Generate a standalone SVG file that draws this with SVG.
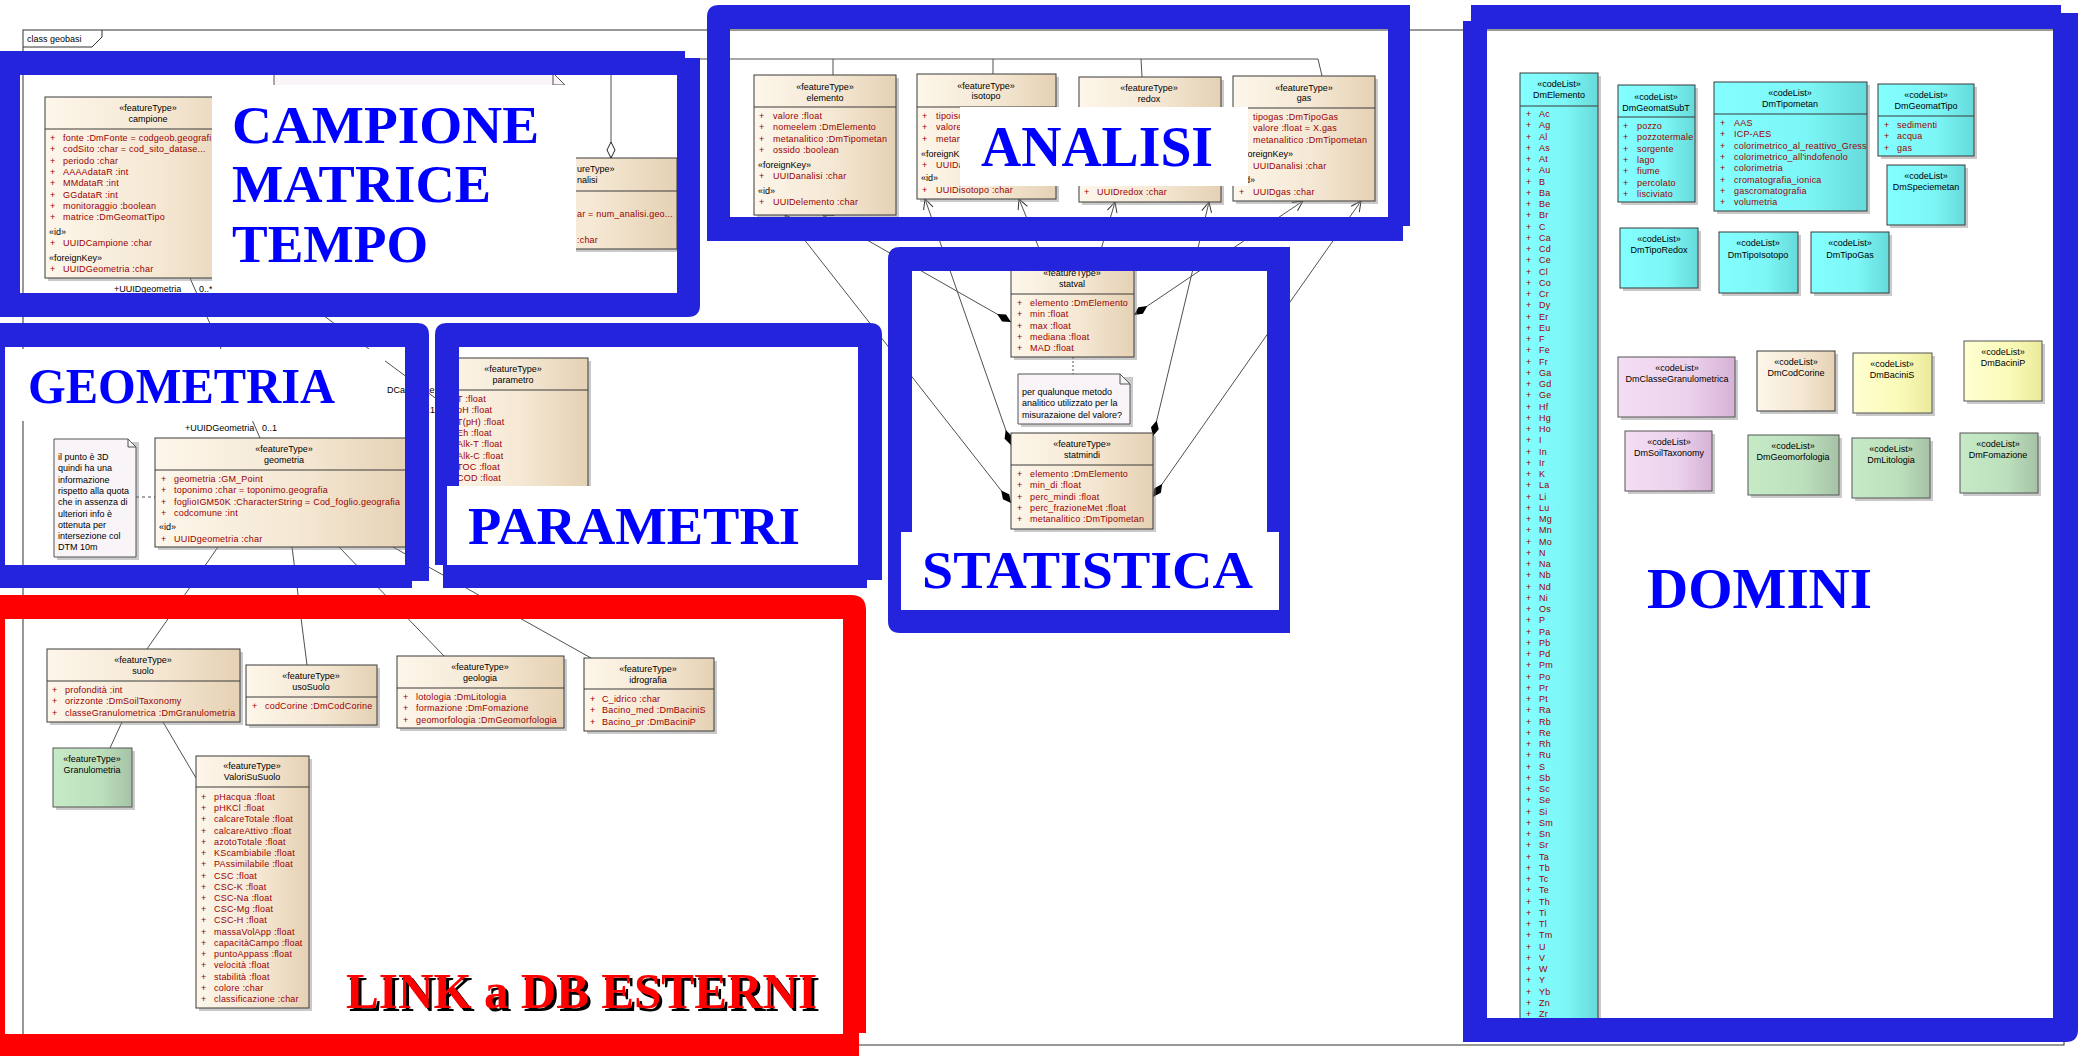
<svg xmlns="http://www.w3.org/2000/svg" width="2078" height="1056" viewBox="0 0 2078 1056">
<defs>
<linearGradient id="gB" x1="0" x2="1" y1="0" y2="0"><stop offset="0" stop-color="#FDF6EA"/><stop offset="0.55" stop-color="#F5E8D4"/><stop offset="1" stop-color="#E5D1B4"/></linearGradient>
<linearGradient id="gC" x1="0" x2="1" y1="0" y2="0"><stop offset="0" stop-color="#84FFFF"/><stop offset="0.6" stop-color="#7CF6F6"/><stop offset="1" stop-color="#66DADA"/></linearGradient>
<linearGradient id="gP" x1="0" x2="1" y1="0" y2="0"><stop offset="0" stop-color="#F4DEF4"/><stop offset="0.6" stop-color="#ECD2EC"/><stop offset="1" stop-color="#D6B2D6"/></linearGradient>
<linearGradient id="gY" x1="0" x2="1" y1="0" y2="0"><stop offset="0" stop-color="#FFFFD2"/><stop offset="0.6" stop-color="#FAFAB8"/><stop offset="1" stop-color="#EAEA9C"/></linearGradient>
<linearGradient id="gG" x1="0" x2="1" y1="0" y2="0"><stop offset="0" stop-color="#C6EAC6"/><stop offset="0.6" stop-color="#BCE0BC"/><stop offset="1" stop-color="#A6C2A6"/></linearGradient>
<marker id="dia" viewBox="0 0 16 10" refX="0" refY="5" markerWidth="16" markerHeight="10" orient="auto" markerUnits="userSpaceOnUse"><path d="M0,5 L8,1 L16,5 L8,9 Z" fill="#000"/></marker>
<marker id="odia" viewBox="0 0 18 12" refX="1" refY="6" markerWidth="18" markerHeight="12" orient="auto" markerUnits="userSpaceOnUse"><path d="M1,6 L9,2 L17,6 L9,10 Z" fill="#fff" stroke="#222"/></marker>
<marker id="arr" viewBox="0 0 12 12" refX="11" refY="6" markerWidth="12" markerHeight="12" orient="auto" markerUnits="userSpaceOnUse"><path d="M1,1 L11,6 L1,11" fill="none" stroke="#333" stroke-width="1"/></marker>
</defs>
<style>
.t{font-family:"Liberation Sans",Arial,sans-serif;font-size:9px;fill:#000}
.c{text-anchor:middle}
.a{fill:#990000;letter-spacing:0.2px}
.box{fill:url(#gB);stroke:#3a3a3a;stroke-width:1}
.cy{fill:url(#gC);stroke:#3a3a3a;stroke-width:1}
.pk{fill:url(#gP);stroke:#555;stroke-width:1}
.ye{fill:url(#gY);stroke:#555;stroke-width:1}
.gr{fill:url(#gG);stroke:#555;stroke-width:1}
.sh{fill:#8a8a8a;opacity:.45}
.dv{stroke:#3a3a3a;stroke-width:1}
.ln{stroke:#505050;stroke-width:1;fill:none}
.note{fill:#F8F4F8;stroke:#555;stroke-width:1}
.rg{fill:#2424DC;fill-rule:evenodd}
.rd{fill:#FF0000;fill-rule:evenodd}
.wl{fill:#fff}
.big{font-family:"Liberation Serif","Times New Roman",serif;fill:#0000FF;font-weight:bold}
</style>
<rect width="2078" height="1056" fill="#fff"/>

<g id="frame">
<rect x="23" y="30" width="2041" height="1015" fill="none" stroke="#333" stroke-width="1"/>
<path d="M23,47 H92 L102,37 V30" fill="none" stroke="#333"/>
<text class="t" x="27" y="42">class geobasi</text>
</g>

<g id="connectors">
<path class="ln" d="M611,158 V59 H1318" marker-start="url(#odia)"/>
<path class="ln" d="M833,59 V75 M993,59 V74 M1141,59 L1142,77 M1318,59 L1322,76"/>
<path class="ln" d="M190,278 L260,438"/>
<path class="ln" d="M251,262 L438,400"/>
<path class="ln" d="M218,547 L147,649 M292,547 L307,665 M339,547 L444,656 M393,547 L591,658"/>
<path class="ln" d="M122,722 L110,748 M163,722 L196,778"/>
<path class="ln" d="M1011,503 L785,215" marker-start="url(#dia)" marker-end="url(#arr)"/>
<path class="ln" d="M1011,322 L823,215" marker-start="url(#dia)" marker-end="url(#arr)"/>
<path class="ln" d="M1011,445 L925,199" marker-start="url(#dia)" marker-end="url(#arr)"/>
<path class="ln" d="M1045,263 L1019,199" marker-start="url(#dia)" marker-end="url(#arr)"/>
<path class="ln" d="M1097,263 L1115,202" marker-start="url(#dia)" marker-end="url(#arr)"/>
<path class="ln" d="M1153,436 L1209,202" marker-start="url(#dia)" marker-end="url(#arr)"/>
<path class="ln" d="M1134,315 L1303,201" marker-start="url(#dia)" marker-end="url(#arr)"/>
<path class="ln" d="M1153,497 L1361,201" marker-start="url(#dia)" marker-end="url(#arr)"/>
<path class="ln" d="M136,497 H155" stroke-dasharray="3,3"/>
<path class="ln" d="M1073,357 V374" stroke-dasharray="2,2"/>
<text class="t" x="114" y="292">+UUIDgeometria</text>
<text class="t" x="199" y="292">0..*</text>
<text class="t" x="185" y="431">+UUIDGeometria</text>
<text class="t" x="262" y="431">0..1</text>
<text class="t" x="387" y="393">DCampione</text>
<text class="t" x="420" y="413">0..1</text>
</g>

<g id="note-top">
<path class="note" d="M274,73 H553 L565,85 V110 H274 Z"/>
<path class="ln" d="M553,73 V85 H565"/>
</g>

<g id="campione">
<rect class="sh" x="48" y="100" width="206" height="181"/>
<rect class="box" x="45" y="97" width="206" height="181"/>
<line class="dv" x1="45" y1="129" x2="251" y2="129"/>
<text class="t c" x="148" y="111">«featureType»</text>
<text class="t c" x="148" y="122">campione</text>
<text class="t a" x="50" y="141">+<tspan x="50" dy="11.3">+</tspan><tspan x="50" dy="11.3">+</tspan><tspan x="50" dy="11.3">+</tspan><tspan x="50" dy="11.3">+</tspan><tspan x="50" dy="11.3">+</tspan><tspan x="50" dy="11.3">+</tspan><tspan x="50" dy="11.3">+</tspan></text>
<text class="t a" x="63" y="141">fonte :DmFonte = codgeob.geografi<tspan x="63" dy="11.3">codSito :char = cod_sito_datase...</tspan><tspan x="63" dy="11.3">periodo :char</tspan><tspan x="63" dy="11.3">AAAAdataR :int</tspan><tspan x="63" dy="11.3">MMdataR :int</tspan><tspan x="63" dy="11.3">GGdataR :int</tspan><tspan x="63" dy="11.3">monitoraggio :boolean</tspan><tspan x="63" dy="11.3">matrice :DmGeomatTipo</tspan></text>
<text class="t" x="49" y="235">«id»</text>
<text class="t a" x="50" y="246">+</text><text class="t a" x="63" y="246">UUIDCampione :char</text>
<text class="t" x="49" y="261">«foreignKey»</text>
<text class="t a" x="50" y="272">+</text><text class="t a" x="63" y="272">UUIDGeometria :char</text>
</g>

<g id="analisi">
<rect class="sh" x="494" y="161" width="186" height="91"/>
<rect class="box" x="491" y="158" width="186" height="91"/>
<line class="dv" x1="491" y1="191" x2="677" y2="191"/>
<text class="t" x="577" y="172">ureType»</text>
<text class="t" x="577" y="183">nalisi</text>
<text class="t a" x="577" y="217">ar = num_analisi.geo...</text>
<text class="t a" x="577" y="243">:char</text>
</g>

<g id="parametro">
<rect class="sh" x="441" y="361" width="150" height="182"/>
<rect class="box" x="438" y="358" width="150" height="182"/>
<line class="dv" x1="438" y1="390" x2="588" y2="390"/>
<text class="t c" x="513" y="372">«featureType»</text>
<text class="t c" x="513" y="383">parametro</text>
<text class="t a" x="457" y="402">T :float<tspan x="457" dy="11.3">pH :float</tspan><tspan x="457" dy="11.3">T(pH) :float</tspan><tspan x="457" dy="11.3">Eh :float</tspan><tspan x="457" dy="11.3">Alk-T :float</tspan><tspan x="457" dy="11.3">Alk-C :float</tspan><tspan x="457" dy="11.3">TOC :float</tspan><tspan x="457" dy="11.3">COD :float</tspan></text>
</g>

<g id="note-punto">
<path class="sh" d="M57,442 H139 V560 H57 Z"/>
<path class="note" d="M54,439 H128 L136,447 V557 H54 Z"/>
<path class="ln" d="M128,439 V447 H136"/>
<text class="t" x="58" y="460">il punto è 3D<tspan x="58" dy="11.3">quindi ha una</tspan><tspan x="58" dy="11.3">informazione</tspan><tspan x="58" dy="11.3">rispetto alla quota</tspan><tspan x="58" dy="11.3">che in assenza di</tspan><tspan x="58" dy="11.3">ulteriori info è</tspan><tspan x="58" dy="11.3">ottenuta per</tspan><tspan x="58" dy="11.3">intersezione col</tspan><tspan x="58" dy="11.3">DTM 10m</tspan></text>
</g>

<g id="geometria">
<rect class="sh" x="158" y="441" width="258" height="109"/>
<rect class="box" x="155" y="438" width="258" height="109"/>
<line class="dv" x1="155" y1="470" x2="413" y2="470"/>
<text class="t c" x="284" y="452">«featureType»</text>
<text class="t c" x="284" y="463">geometria</text>
<text class="t a" x="161" y="482">+<tspan x="161" dy="11.3">+</tspan><tspan x="161" dy="11.3">+</tspan><tspan x="161" dy="11.3">+</tspan></text>
<text class="t a" x="174" y="482">geometria :GM_Point<tspan x="174" dy="11.3">toponimo :char = toponimo.geografia</tspan><tspan x="174" dy="11.3">foglioIGM50K :CharacterString = Cod_foglio.geografia</tspan><tspan x="174" dy="11.3">codcomune :int</tspan></text>
<text class="t" x="159" y="530">«id»</text>
<text class="t a" x="161" y="542">+</text><text class="t a" x="174" y="542">UUIDgeometria :char</text>
</g>

<g id="suolo">
<rect class="sh" x="50" y="652" width="193" height="73"/>
<rect class="box" x="47" y="649" width="193" height="73"/>
<line class="dv" x1="47" y1="681" x2="240" y2="681"/>
<text class="t c" x="143" y="663">«featureType»</text>
<text class="t c" x="143" y="674">suolo</text>
<text class="t a" x="52" y="693">+<tspan x="52" dy="11.3">+</tspan><tspan x="52" dy="11.3">+</tspan></text>
<text class="t a" x="65" y="693">profondità :int<tspan x="65" dy="11.3">orizzonte :DmSoilTaxonomy</tspan><tspan x="65" dy="11.3">classeGranulometrica :DmGranulometria</tspan></text>
</g>

<g id="usoSuolo">
<rect class="sh" x="249" y="668" width="131" height="60"/>
<rect class="box" x="246" y="665" width="131" height="60"/>
<line class="dv" x1="246" y1="697" x2="377" y2="697"/>
<text class="t c" x="311" y="679">«featureType»</text>
<text class="t c" x="311" y="690">usoSuolo</text>
<text class="t a" x="252" y="709">+</text><text class="t a" x="265" y="709">codCorine :DmCodCorine</text>
</g>

<g id="geologia">
<rect class="sh" x="400" y="659" width="167" height="72"/>
<rect class="box" x="397" y="656" width="167" height="72"/>
<line class="dv" x1="397" y1="688" x2="564" y2="688"/>
<text class="t c" x="480" y="670">«featureType»</text>
<text class="t c" x="480" y="681">geologia</text>
<text class="t a" x="403" y="700">+<tspan x="403" dy="11.3">+</tspan><tspan x="403" dy="11.3">+</tspan></text>
<text class="t a" x="416" y="700">lotologia :DmLitologia<tspan x="416" dy="11.3">formazione :DmFomazione</tspan><tspan x="416" dy="11.3">geomorfologia :DmGeomorfologia</tspan></text>
</g>

<g id="idrografia">
<rect class="sh" x="587" y="661" width="130" height="73"/>
<rect class="box" x="584" y="658" width="130" height="73"/>
<line class="dv" x1="584" y1="689" x2="714" y2="689"/>
<text class="t c" x="648" y="672">«featureType»</text>
<text class="t c" x="648" y="683">idrografia</text>
<text class="t a" x="590" y="702">+<tspan x="590" dy="11.3">+</tspan><tspan x="590" dy="11.3">+</tspan></text>
<text class="t a" x="602" y="702">C_idrico :char<tspan x="602" dy="11.3">Bacino_med :DmBaciniS</tspan><tspan x="602" dy="11.3">Bacino_pr :DmBaciniP</tspan></text>
</g>

<g id="Granulometria">
<rect class="sh" x="56" y="751" width="79" height="59"/>
<rect class="gr" x="53" y="748" width="79" height="59"/>
<text class="t c" x="92" y="762">«featureType»</text>
<text class="t c" x="92" y="773">Granulometria</text>
</g>

<g id="ValoriSuSuolo">
<rect class="sh" x="199" y="759" width="113" height="252"/>
<rect class="box" x="196" y="756" width="113" height="252"/>
<line class="dv" x1="196" y1="787" x2="309" y2="787"/>
<text class="t c" x="252" y="769">«featureType»</text>
<text class="t c" x="252" y="780">ValoriSuSuolo</text>
<text class="t a" x="201" y="800">+<tspan x="201" dy="11.22">+</tspan><tspan x="201" dy="11.22">+</tspan><tspan x="201" dy="11.22">+</tspan><tspan x="201" dy="11.22">+</tspan><tspan x="201" dy="11.22">+</tspan><tspan x="201" dy="11.22">+</tspan><tspan x="201" dy="11.22">+</tspan><tspan x="201" dy="11.22">+</tspan><tspan x="201" dy="11.22">+</tspan><tspan x="201" dy="11.22">+</tspan><tspan x="201" dy="11.22">+</tspan><tspan x="201" dy="11.22">+</tspan><tspan x="201" dy="11.22">+</tspan><tspan x="201" dy="11.22">+</tspan><tspan x="201" dy="11.22">+</tspan><tspan x="201" dy="11.22">+</tspan><tspan x="201" dy="11.22">+</tspan><tspan x="201" dy="11.22">+</tspan></text>
<text class="t a" x="214" y="800">pHacqua :float<tspan x="214" dy="11.22">pHKCl :float</tspan><tspan x="214" dy="11.22">calcareTotale :float</tspan><tspan x="214" dy="11.22">calcareAttivo :float</tspan><tspan x="214" dy="11.22">azotoTotale :float</tspan><tspan x="214" dy="11.22">KScambiabile :float</tspan><tspan x="214" dy="11.22">PAssimilabile :float</tspan><tspan x="214" dy="11.22">CSC :float</tspan><tspan x="214" dy="11.22">CSC-K :float</tspan><tspan x="214" dy="11.22">CSC-Na :float</tspan><tspan x="214" dy="11.22">CSC-Mg :float</tspan><tspan x="214" dy="11.22">CSC-H :float</tspan><tspan x="214" dy="11.22">massaVolApp :float</tspan><tspan x="214" dy="11.22">capacitàCampo :float</tspan><tspan x="214" dy="11.22">puntoAppass :float</tspan><tspan x="214" dy="11.22">velocità :float</tspan><tspan x="214" dy="11.22">stabilità :float</tspan><tspan x="214" dy="11.22">colore :char</tspan><tspan x="214" dy="11.22">classificazione :char</tspan></text>
</g>

<g id="elemento">
<rect class="sh" x="757" y="78" width="142" height="140"/>
<rect class="box" x="754" y="75" width="142" height="140"/>
<line class="dv" x1="754" y1="107" x2="896" y2="107"/>
<text class="t c" x="825" y="90">«featureType»</text>
<text class="t c" x="825" y="101">elemento</text>
<text class="t a" x="759" y="119">+<tspan x="759" dy="11.3">+</tspan><tspan x="759" dy="11.3">+</tspan><tspan x="759" dy="11.3">+</tspan></text>
<text class="t a" x="773" y="119">valore :float<tspan x="773" dy="11.3">nomeelem :DmElemento</tspan><tspan x="773" dy="11.3">metanalitico :DmTipometan</tspan><tspan x="773" dy="11.3">ossido :boolean</tspan></text>
<text class="t" x="758" y="168">«foreignKey»</text>
<text class="t a" x="759" y="179">+</text><text class="t a" x="773" y="179">UUIDanalisi :char</text>
<text class="t" x="758" y="194">«id»</text>
<text class="t a" x="759" y="205">+</text><text class="t a" x="773" y="205">UUIDelemento :char</text>
</g>

<g id="isotopo">
<rect class="sh" x="920" y="77" width="139" height="125"/>
<rect class="box" x="917" y="74" width="139" height="125"/>
<line class="dv" x1="917" y1="107" x2="1056" y2="107"/>
<text class="t c" x="986" y="89">«featureType»</text>
<text class="t c" x="986" y="99">isotopo</text>
<text class="t a" x="922" y="119">+<tspan x="922" dy="11.3">+</tspan><tspan x="922" dy="11.3">+</tspan></text>
<text class="t a" x="936" y="119">tipoisc<tspan x="936" dy="11.3">valore</tspan><tspan x="936" dy="11.3">metan</tspan></text>
<text class="t" x="921" y="157">«foreignK</text>
<text class="t a" x="922" y="168">+</text><text class="t a" x="936" y="168">UUIDa</text>
<text class="t" x="921" y="181">«id»</text>
<text class="t a" x="922" y="193">+</text><text class="t a" x="936" y="193">UUIDisotopo :char</text>
</g>

<g id="redox">
<rect class="sh" x="1082" y="80" width="142" height="125"/>
<rect class="box" x="1079" y="77" width="142" height="125"/>
<line class="dv" x1="1079" y1="108" x2="1221" y2="108"/>
<text class="t c" x="1149" y="91">«featureType»</text>
<text class="t c" x="1149" y="102">redox</text>
<text class="t a" x="1084" y="195">+</text><text class="t a" x="1097" y="195">UUIDredox :char</text>
</g>

<g id="gas">
<rect class="sh" x="1236" y="79" width="142" height="125"/>
<rect class="box" x="1233" y="76" width="142" height="125"/>
<line class="dv" x1="1233" y1="108" x2="1375" y2="108"/>
<text class="t c" x="1304" y="91">«featureType»</text>
<text class="t c" x="1304" y="101">gas</text>
<text class="t a" x="1253" y="120">tipogas :DmTipoGas<tspan x="1253" dy="11.3">valore :float = X.gas</tspan><tspan x="1253" dy="11.3">metanalitico :DmTipometan</tspan></text>
<text class="t" x="1240" y="157">«foreignKey»</text>
<text class="t a" x="1253" y="169">UUIDanalisi :char</text>
<text class="t" x="1238" y="183">«id»</text>
<text class="t a" x="1239" y="195">+</text><text class="t a" x="1253" y="195">UUIDgas :char</text>
</g>

<g id="statval">
<rect class="sh" x="1014" y="266" width="123" height="94"/>
<rect class="box" x="1011" y="263" width="123" height="94"/>
<line class="dv" x1="1011" y1="294" x2="1134" y2="294"/>
<text class="t c" x="1072" y="276">«featureType»</text>
<text class="t c" x="1072" y="287">statval</text>
<text class="t a" x="1017" y="306">+<tspan x="1017" dy="11.3">+</tspan><tspan x="1017" dy="11.3">+</tspan><tspan x="1017" dy="11.3">+</tspan><tspan x="1017" dy="11.3">+</tspan></text>
<text class="t a" x="1030" y="306">elemento :DmElemento<tspan x="1030" dy="11.3">min :float</tspan><tspan x="1030" dy="11.3">max :float</tspan><tspan x="1030" dy="11.3">mediana :float</tspan><tspan x="1030" dy="11.3">MAD :float</tspan></text>
</g>

<g id="note-stat">
<path class="sh" d="M1021,377 H1133 V427 H1021 Z"/>
<path class="note" d="M1018,374 H1120 L1130,384 V424 H1018 Z"/>
<path class="ln" d="M1120,374 V384 H1130"/>
<text class="t" x="1022" y="395">per qualunque metodo<tspan x="1022" dy="11.3">analitico utilizzato per la</tspan><tspan x="1022" dy="11.3">misurazaione del valore?</tspan></text>
</g>

<g id="statmindi">
<rect class="sh" x="1014" y="436" width="142" height="96"/>
<rect class="box" x="1011" y="433" width="142" height="96"/>
<line class="dv" x1="1011" y1="465" x2="1153" y2="465"/>
<text class="t c" x="1082" y="447">«featureType»</text>
<text class="t c" x="1082" y="458">statmindi</text>
<text class="t a" x="1017" y="477">+<tspan x="1017" dy="11.3">+</tspan><tspan x="1017" dy="11.3">+</tspan><tspan x="1017" dy="11.3">+</tspan><tspan x="1017" dy="11.3">+</tspan></text>
<text class="t a" x="1030" y="477">elemento :DmElemento<tspan x="1030" dy="11.3">min_di :float</tspan><tspan x="1030" dy="11.3">perc_mindi :float</tspan><tspan x="1030" dy="11.3">perc_frazioneMet :float</tspan><tspan x="1030" dy="11.3">metanalitico :DmTipometan</tspan></text>
</g>

<g id="DmElemento">
<rect class="sh" x="1523" y="76" width="78" height="949"/>
<rect class="cy" x="1520" y="73" width="78" height="949"/>
<line class="dv" x1="1520" y1="106" x2="1598" y2="106"/>
<text class="t c" x="1559" y="87">«codeList»</text>
<text class="t c" x="1559" y="98">DmElemento</text>
<text class="t a" x="1526" y="117">+<tspan x="1526" dy="11.25">+</tspan><tspan x="1526" dy="11.25">+</tspan><tspan x="1526" dy="11.25">+</tspan><tspan x="1526" dy="11.25">+</tspan><tspan x="1526" dy="11.25">+</tspan><tspan x="1526" dy="11.25">+</tspan><tspan x="1526" dy="11.25">+</tspan><tspan x="1526" dy="11.25">+</tspan><tspan x="1526" dy="11.25">+</tspan><tspan x="1526" dy="11.25">+</tspan><tspan x="1526" dy="11.25">+</tspan><tspan x="1526" dy="11.25">+</tspan><tspan x="1526" dy="11.25">+</tspan><tspan x="1526" dy="11.25">+</tspan><tspan x="1526" dy="11.25">+</tspan><tspan x="1526" dy="11.25">+</tspan><tspan x="1526" dy="11.25">+</tspan><tspan x="1526" dy="11.25">+</tspan><tspan x="1526" dy="11.25">+</tspan><tspan x="1526" dy="11.25">+</tspan><tspan x="1526" dy="11.25">+</tspan><tspan x="1526" dy="11.25">+</tspan><tspan x="1526" dy="11.25">+</tspan><tspan x="1526" dy="11.25">+</tspan><tspan x="1526" dy="11.25">+</tspan><tspan x="1526" dy="11.25">+</tspan><tspan x="1526" dy="11.25">+</tspan><tspan x="1526" dy="11.25">+</tspan><tspan x="1526" dy="11.25">+</tspan><tspan x="1526" dy="11.25">+</tspan><tspan x="1526" dy="11.25">+</tspan><tspan x="1526" dy="11.25">+</tspan><tspan x="1526" dy="11.25">+</tspan><tspan x="1526" dy="11.25">+</tspan><tspan x="1526" dy="11.25">+</tspan><tspan x="1526" dy="11.25">+</tspan><tspan x="1526" dy="11.25">+</tspan><tspan x="1526" dy="11.25">+</tspan><tspan x="1526" dy="11.25">+</tspan><tspan x="1526" dy="11.25">+</tspan><tspan x="1526" dy="11.25">+</tspan><tspan x="1526" dy="11.25">+</tspan><tspan x="1526" dy="11.25">+</tspan><tspan x="1526" dy="11.25">+</tspan><tspan x="1526" dy="11.25">+</tspan><tspan x="1526" dy="11.25">+</tspan><tspan x="1526" dy="11.25">+</tspan><tspan x="1526" dy="11.25">+</tspan><tspan x="1526" dy="11.25">+</tspan><tspan x="1526" dy="11.25">+</tspan><tspan x="1526" dy="11.25">+</tspan><tspan x="1526" dy="11.25">+</tspan><tspan x="1526" dy="11.25">+</tspan><tspan x="1526" dy="11.25">+</tspan><tspan x="1526" dy="11.25">+</tspan><tspan x="1526" dy="11.25">+</tspan><tspan x="1526" dy="11.25">+</tspan><tspan x="1526" dy="11.25">+</tspan><tspan x="1526" dy="11.25">+</tspan><tspan x="1526" dy="11.25">+</tspan><tspan x="1526" dy="11.25">+</tspan><tspan x="1526" dy="11.25">+</tspan><tspan x="1526" dy="11.25">+</tspan><tspan x="1526" dy="11.25">+</tspan><tspan x="1526" dy="11.25">+</tspan><tspan x="1526" dy="11.25">+</tspan><tspan x="1526" dy="11.25">+</tspan><tspan x="1526" dy="11.25">+</tspan><tspan x="1526" dy="11.25">+</tspan><tspan x="1526" dy="11.25">+</tspan><tspan x="1526" dy="11.25">+</tspan><tspan x="1526" dy="11.25">+</tspan><tspan x="1526" dy="11.25">+</tspan><tspan x="1526" dy="11.25">+</tspan><tspan x="1526" dy="11.25">+</tspan><tspan x="1526" dy="11.25">+</tspan><tspan x="1526" dy="11.25">+</tspan><tspan x="1526" dy="11.25">+</tspan><tspan x="1526" dy="11.25">+</tspan><tspan x="1526" dy="11.25">+</tspan></text>
<text class="t a" x="1539" y="117">Ac<tspan x="1539" dy="11.25">Ag</tspan><tspan x="1539" dy="11.25">Al</tspan><tspan x="1539" dy="11.25">As</tspan><tspan x="1539" dy="11.25">At</tspan><tspan x="1539" dy="11.25">Au</tspan><tspan x="1539" dy="11.25">B</tspan><tspan x="1539" dy="11.25">Ba</tspan><tspan x="1539" dy="11.25">Be</tspan><tspan x="1539" dy="11.25">Br</tspan><tspan x="1539" dy="11.25">C</tspan><tspan x="1539" dy="11.25">Ca</tspan><tspan x="1539" dy="11.25">Cd</tspan><tspan x="1539" dy="11.25">Ce</tspan><tspan x="1539" dy="11.25">Cl</tspan><tspan x="1539" dy="11.25">Co</tspan><tspan x="1539" dy="11.25">Cr</tspan><tspan x="1539" dy="11.25">Dy</tspan><tspan x="1539" dy="11.25">Er</tspan><tspan x="1539" dy="11.25">Eu</tspan><tspan x="1539" dy="11.25">F</tspan><tspan x="1539" dy="11.25">Fe</tspan><tspan x="1539" dy="11.25">Fr</tspan><tspan x="1539" dy="11.25">Ga</tspan><tspan x="1539" dy="11.25">Gd</tspan><tspan x="1539" dy="11.25">Ge</tspan><tspan x="1539" dy="11.25">Hf</tspan><tspan x="1539" dy="11.25">Hg</tspan><tspan x="1539" dy="11.25">Ho</tspan><tspan x="1539" dy="11.25">I</tspan><tspan x="1539" dy="11.25">In</tspan><tspan x="1539" dy="11.25">Ir</tspan><tspan x="1539" dy="11.25">K</tspan><tspan x="1539" dy="11.25">La</tspan><tspan x="1539" dy="11.25">Li</tspan><tspan x="1539" dy="11.25">Lu</tspan><tspan x="1539" dy="11.25">Mg</tspan><tspan x="1539" dy="11.25">Mn</tspan><tspan x="1539" dy="11.25">Mo</tspan><tspan x="1539" dy="11.25">N</tspan><tspan x="1539" dy="11.25">Na</tspan><tspan x="1539" dy="11.25">Nb</tspan><tspan x="1539" dy="11.25">Nd</tspan><tspan x="1539" dy="11.25">Ni</tspan><tspan x="1539" dy="11.25">Os</tspan><tspan x="1539" dy="11.25">P</tspan><tspan x="1539" dy="11.25">Pa</tspan><tspan x="1539" dy="11.25">Pb</tspan><tspan x="1539" dy="11.25">Pd</tspan><tspan x="1539" dy="11.25">Pm</tspan><tspan x="1539" dy="11.25">Po</tspan><tspan x="1539" dy="11.25">Pr</tspan><tspan x="1539" dy="11.25">Pt</tspan><tspan x="1539" dy="11.25">Ra</tspan><tspan x="1539" dy="11.25">Rb</tspan><tspan x="1539" dy="11.25">Re</tspan><tspan x="1539" dy="11.25">Rh</tspan><tspan x="1539" dy="11.25">Ru</tspan><tspan x="1539" dy="11.25">S</tspan><tspan x="1539" dy="11.25">Sb</tspan><tspan x="1539" dy="11.25">Sc</tspan><tspan x="1539" dy="11.25">Se</tspan><tspan x="1539" dy="11.25">Si</tspan><tspan x="1539" dy="11.25">Sm</tspan><tspan x="1539" dy="11.25">Sn</tspan><tspan x="1539" dy="11.25">Sr</tspan><tspan x="1539" dy="11.25">Ta</tspan><tspan x="1539" dy="11.25">Tb</tspan><tspan x="1539" dy="11.25">Tc</tspan><tspan x="1539" dy="11.25">Te</tspan><tspan x="1539" dy="11.25">Th</tspan><tspan x="1539" dy="11.25">Ti</tspan><tspan x="1539" dy="11.25">Tl</tspan><tspan x="1539" dy="11.25">Tm</tspan><tspan x="1539" dy="11.25">U</tspan><tspan x="1539" dy="11.25">V</tspan><tspan x="1539" dy="11.25">W</tspan><tspan x="1539" dy="11.25">Y</tspan><tspan x="1539" dy="11.25">Yb</tspan><tspan x="1539" dy="11.25">Zn</tspan><tspan x="1539" dy="11.25">Zr</tspan></text>
</g>

<g id="DmGeomatSubT">
<rect class="sh" x="1621" y="88" width="77" height="117"/>
<rect class="cy" x="1618" y="85" width="77" height="117"/>
<line class="dv" x1="1618" y1="117" x2="1695" y2="117"/>
<text class="t c" x="1656" y="100">«codeList»</text>
<text class="t c" x="1656" y="111">DmGeomatSubT</text>
<text class="t a" x="1623" y="129">+<tspan x="1623" dy="11.3">+</tspan><tspan x="1623" dy="11.3">+</tspan><tspan x="1623" dy="11.3">+</tspan><tspan x="1623" dy="11.3">+</tspan><tspan x="1623" dy="11.3">+</tspan><tspan x="1623" dy="11.3">+</tspan></text>
<text class="t a" x="1637" y="129">pozzo<tspan x="1637" dy="11.3">pozzotermale</tspan><tspan x="1637" dy="11.3">sorgente</tspan><tspan x="1637" dy="11.3">lago</tspan><tspan x="1637" dy="11.3">fiume</tspan><tspan x="1637" dy="11.3">percolato</tspan><tspan x="1637" dy="11.3">lisciviato</tspan></text>
</g>

<g id="DmTipometan">
<rect class="sh" x="1717" y="85" width="153" height="129"/>
<rect class="cy" x="1714" y="82" width="153" height="129"/>
<line class="dv" x1="1714" y1="114" x2="1867" y2="114"/>
<text class="t c" x="1790" y="96">«codeList»</text>
<text class="t c" x="1790" y="107">DmTipometan</text>
<text class="t a" x="1720" y="126">+<tspan x="1720" dy="11.3">+</tspan><tspan x="1720" dy="11.3">+</tspan><tspan x="1720" dy="11.3">+</tspan><tspan x="1720" dy="11.3">+</tspan><tspan x="1720" dy="11.3">+</tspan><tspan x="1720" dy="11.3">+</tspan><tspan x="1720" dy="11.3">+</tspan></text>
<text class="t a" x="1734" y="126">AAS<tspan x="1734" dy="11.3">ICP-AES</tspan><tspan x="1734" dy="11.3">colorimetrico_al_reattivo_Gress</tspan><tspan x="1734" dy="11.3">colorimetrico_all'indofenolo</tspan><tspan x="1734" dy="11.3">colorimetria</tspan><tspan x="1734" dy="11.3">cromatografia_ionica</tspan><tspan x="1734" dy="11.3">gascromatografia</tspan><tspan x="1734" dy="11.3">volumetria</tspan></text>
</g>

<g id="DmGeomatTipo">
<rect class="sh" x="1881" y="87" width="96" height="72"/>
<rect class="cy" x="1878" y="84" width="96" height="72"/>
<line class="dv" x1="1878" y1="116" x2="1974" y2="116"/>
<text class="t c" x="1926" y="98">«codeList»</text>
<text class="t c" x="1926" y="109">DmGeomatTipo</text>
<text class="t a" x="1884" y="128">+<tspan x="1884" dy="11.3">+</tspan><tspan x="1884" dy="11.3">+</tspan></text>
<text class="t a" x="1897" y="128">sedimenti<tspan x="1897" dy="11.3">acqua</tspan><tspan x="1897" dy="11.3">gas</tspan></text>
</g>

<g id="DmSpeciemetan">
<rect class="sh" x="1890" y="168" width="78" height="60"/>
<rect class="cy" x="1887" y="165" width="78" height="60"/>
<text class="t c" x="1926" y="179">«codeList»</text>
<text class="t c" x="1926" y="190">DmSpeciemetan</text>
</g>

<g id="DmTipoRedox">
<rect class="sh" x="1623" y="231" width="78" height="60"/>
<rect class="cy" x="1620" y="228" width="78" height="60"/>
<text class="t c" x="1659" y="242">«codeList»</text>
<text class="t c" x="1659" y="253">DmTipoRedox</text>
</g>

<g id="DmTipoIsotopo">
<rect class="sh" x="1722" y="235" width="79" height="61"/>
<rect class="cy" x="1719" y="232" width="79" height="61"/>
<text class="t c" x="1758" y="246">«codeList»</text>
<text class="t c" x="1758" y="258">DmTipoIsotopo</text>
</g>

<g id="DmTipoGas">
<rect class="sh" x="1814" y="235" width="78" height="61"/>
<rect class="cy" x="1811" y="232" width="78" height="61"/>
<text class="t c" x="1850" y="246">«codeList»</text>
<text class="t c" x="1850" y="258">DmTipoGas</text>
</g>

<g id="DmClasseGranulometrica">
<rect class="sh" x="1621" y="360" width="117" height="60"/>
<rect class="pk" x="1618" y="357" width="117" height="60"/>
<text class="t c" x="1677" y="371">«codeList»</text>
<text class="t c" x="1677" y="382">DmClasseGranulometrica</text>
</g>

<g id="DmCodCorine">
<rect class="sh" x="1760" y="354" width="78" height="60"/>
<rect class="box" x="1757" y="351" width="78" height="60"/>
<text class="t c" x="1796" y="365">«codeList»</text>
<text class="t c" x="1796" y="376">DmCodCorine</text>
</g>

<g id="DmBaciniS">
<rect class="sh" x="1856" y="356" width="79" height="60"/>
<rect class="ye" x="1853" y="353" width="79" height="60"/>
<text class="t c" x="1892" y="367">«codeList»</text>
<text class="t c" x="1892" y="378">DmBaciniS</text>
</g>

<g id="DmBaciniP">
<rect class="sh" x="1967" y="344" width="78" height="60"/>
<rect class="ye" x="1964" y="341" width="78" height="60"/>
<text class="t c" x="2003" y="355">«codeList»</text>
<text class="t c" x="2003" y="366">DmBaciniP</text>
</g>

<g id="DmSoilTaxonomy">
<rect class="sh" x="1628" y="434" width="87" height="60"/>
<rect class="pk" x="1625" y="431" width="87" height="60"/>
<text class="t c" x="1669" y="445">«codeList»</text>
<text class="t c" x="1669" y="456">DmSoilTaxonomy</text>
</g>

<g id="DmGeomorfologia">
<rect class="sh" x="1751" y="438" width="91" height="60"/>
<rect class="gr" x="1748" y="435" width="91" height="60"/>
<text class="t c" x="1793" y="449">«codeList»</text>
<text class="t c" x="1793" y="460">DmGeomorfologia</text>
</g>

<g id="DmLitologia">
<rect class="sh" x="1855" y="441" width="78" height="60"/>
<rect class="gr" x="1852" y="438" width="78" height="60"/>
<text class="t c" x="1891" y="452">«codeList»</text>
<text class="t c" x="1891" y="463">DmLitologia</text>
</g>

<g id="DmFomazione">
<rect class="sh" x="1963" y="436" width="78" height="60"/>
<rect class="gr" x="1960" y="433" width="78" height="60"/>
<text class="t c" x="1998" y="447">«codeList»</text>
<text class="t c" x="1998" y="458">DmFomazione</text>
</g>

<g id="regions">
<path id="reg-campione" class="rg" d="M0,51 H685 V58 H700 V305 Q700,317 688,317 H0 Z M20,75 H677 V293 H20 Z"/>
<path id="reg-geometria" class="rg" d="M0,323 H417 Q429,323 429,335 V581 H412 V588 H0 Z M5,347 H405 V565 H5 Z"/>
<path id="reg-parametri" class="rg" d="M447,323 H870 Q882,323 882,335 V580 H867 V588 H443 V565 H435 V335 Q435,323 447,323 Z M459,347 H858 V565 H459 Z"/>
<path id="reg-analisi" class="rg" d="M719,5 H1410 V226 H1403 V241 H707 V17 Q707,5 719,5 Z M730,29 H1388 V217 H730 Z"/>
<path id="reg-statistica" class="rg" d="M900,247 H1290 V633 H900 Q888,633 888,621 V259 Q888,247 900,247 Z M912,271 H1267 V532 H912 Z"/>
<path id="reg-domini" class="rg" d="M1471,5 H2061 V13 H2078 V1030 Q2078,1042 2066,1042 H1463 V21 H1471 Z M1487,29 H2053 V1018 H1487 Z"/>
<path id="reg-link" class="rd" d="M0,595 H851 Q866,595 866,610 V1033 H859 V1056 H0 Z M5,619 H843 V1034 H5 Z"/>
<rect class="wl" x="212" y="85" width="364" height="208"/>
<rect class="wl" x="960" y="107" width="288" height="79"/>
<rect class="wl" x="5" y="349" width="380" height="72"/>
<rect class="wl" x="447" y="486" width="410" height="79"/>
<rect class="wl" x="901" y="532" width="378" height="78"/>
<text class="big" x="232" y="143" font-size="53" textLength="307" lengthAdjust="spacingAndGlyphs">CAMPIONE</text>
<text class="big" x="232" y="202" font-size="53" textLength="259" lengthAdjust="spacingAndGlyphs">MATRICE</text>
<text class="big" x="232" y="262" font-size="53" textLength="196" lengthAdjust="spacingAndGlyphs">TEMPO</text>
<text class="big" x="981" y="166" font-size="57" textLength="232" lengthAdjust="spacingAndGlyphs">ANALISI</text>
<text class="big" x="28" y="403" font-size="50" textLength="307" lengthAdjust="spacingAndGlyphs">GEOMETRIA</text>
<text class="big" x="468" y="544" font-size="53" textLength="332" lengthAdjust="spacingAndGlyphs">PARAMETRI</text>
<text class="big" x="922" y="588" font-size="53" textLength="331" lengthAdjust="spacingAndGlyphs">STATISTICA</text>
<text class="big" x="1647" y="608" font-size="56" textLength="225" lengthAdjust="spacingAndGlyphs">DOMINI</text>
<text x="349" y="1011" font-family="Liberation Serif,'Times New Roman',serif" font-size="50" font-weight="bold" fill="#000" textLength="471" lengthAdjust="spacingAndGlyphs">LINK a DB ESTERNI</text>
<text x="346" y="1008" font-family="Liberation Serif,'Times New Roman',serif" font-size="50" font-weight="bold" fill="#FF0000" textLength="471" lengthAdjust="spacingAndGlyphs">LINK a DB ESTERNI</text>
</g>
</svg>
